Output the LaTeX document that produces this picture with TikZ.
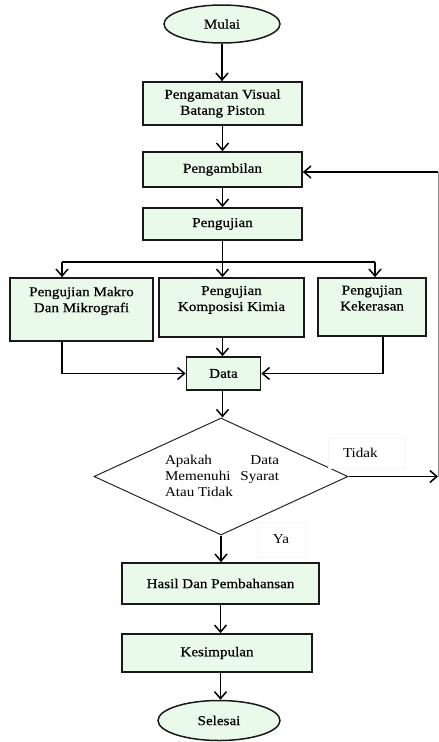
\documentclass[tikz,border=0pt]{standalone}
\usepackage{fontspec}
\setmainfont{Liberation Serif}[FakeStretch=1.12]
\newfontfamily\boxfont{Liberation Serif}[FakeStretch=1.12,FakeBold=0.6]
\usetikzlibrary{arrows.meta,shapes.geometric}
\definecolor{boxfill}{RGB}{234,250,234}
\begin{document}
\begin{tikzpicture}[x=1pt,y=-1pt,
  font=\fontsize{13.5}{16}\selectfont,
  box/.style={draw=black!90,line width=1.7pt,fill=boxfill,inner sep=0pt,align=center,font=\boxfont\fontsize{13.5}{16}\selectfont},
  term/.style={ellipse,draw=black!90,line width=1.5pt,fill=boxfill,inner sep=0pt,font=\boxfont\fontsize{13.5}{16}\selectfont},
  arr/.style={line width=1.5pt,-{Straight Barb[length=7pt,width=12pt,line width=1.5pt]}},
  conn/.style={line width=1.5pt},
  lbl/.style={fill=white,draw=black!4,line width=0.4pt,inner sep=0pt}
]
\useasboundingbox (0,0) rectangle (439,742);

% main column
\node[term,minimum width=116pt,minimum height=38pt] (mulai) at (222,24) {Mulai};
\node[box,minimum width=159pt,minimum height=43pt] (amat) at (222.5,103.5) {Pengamatan Visual\\Batang Piston};
\node[box,minimum width=159pt,minimum height=35pt] (ambil) at (222.5,169.5) {Pengambilan};
\node[box,minimum width=159pt,minimum height=32pt] (uji) at (222.5,224) {Pengujian};

% three tests
\node[box,minimum width=143pt,minimum height=63pt] (makro) at (81.5,309.5) {Pengujian Makro\\Dan Mikrografi\\[4pt]};
\node[box,minimum width=145pt,minimum height=59pt] (kimia) at (231.5,307.5) {Pengujian\\Komposisi Kimia\\[2pt]};
\node[box,minimum width=108pt,minimum height=58pt] (keras) at (372,307) {Pengujian\\Kekerasan\\[2pt]};
\node[box,minimum width=74pt,minimum height=33pt] (data) at (223.5,373.5) {Data};

% decision
\node[diamond,draw=black!85,line width=1pt,minimum width=254pt,minimum height=117pt,inner sep=0pt] (cek) at (221,476.5) {};
\node[align=left,inner sep=0pt] (cektxt) at (222,476) {\makebox[114pt]{Apakah\hfill Data}\\\makebox[114pt]{Memenuhi\hfill Syarat}\\Atau Tidak};
\node[lbl,minimum width=77pt,minimum height=30pt] (tidak) at (366.5,453) {\makebox[77pt][l]{\hspace*{15pt}Tidak}};
\node[lbl,minimum width=48pt,minimum height=35pt] (ya) at (281,539.5) {Ya};

\node[box,minimum width=197pt,minimum height=41pt] (hasil) at (220.5,583.5) {Hasil Dan Pembahansan};
\node[box,minimum width=190pt,minimum height=38pt] (kes) at (217,653) {Kesimpulan};
\node[term,minimum width=122pt,minimum height=40pt] (selesai) at (219,720.5) {Selesai};

% helper points
\coordinate (split) at (222.5,262);
\coordinate (bl) at (62,262);
\coordinate (br) at (375,262);
\coordinate (rx) at (383,377);
\coordinate (fbtop) at (438,172);

% connectors
\draw[arr] (mulai.south) -- (mulai.south |- amat.north);
\draw[arr] (amat.south) -- (amat.south |- ambil.north);
\draw[arr] (ambil.south) -- (ambil.south |- uji.north);
\draw[conn] (uji.south) -- (split);
\draw[conn] (bl) -- (br);
\draw[arr] (bl) -- (bl |- makro.north);
\draw[arr] (split) -- (split |- kimia.north);
\draw[arr] (br) -- (br |- keras.north);
\draw[arr] (kimia.south -| split) -- (split |- data.north);
\draw[arr] (makro.south -| bl) |- (data.west);
\draw[arr] (keras.south -| rx) |- (data.east);
\draw[arr] (data.south -| split) -- (split |- cek.north);
\draw[arr] (cek.south) -- (cek.south |- hasil.north);
\draw[arr] (hasil.south) -- (hasil.south |- kes.north);
\draw[arr] (kes.south -| hasil.south) -- (hasil.south |- selesai.north);

% loop back when the data fail
\draw[arr] (cek.east) -- (cek.east -| fbtop);
\draw[line width=0.6pt,black!45] (fbtop) -- (cek.east -| fbtop);
\draw[arr] (fbtop) -- (fbtop -| ambil.east);
\end{tikzpicture}
\end{document}
